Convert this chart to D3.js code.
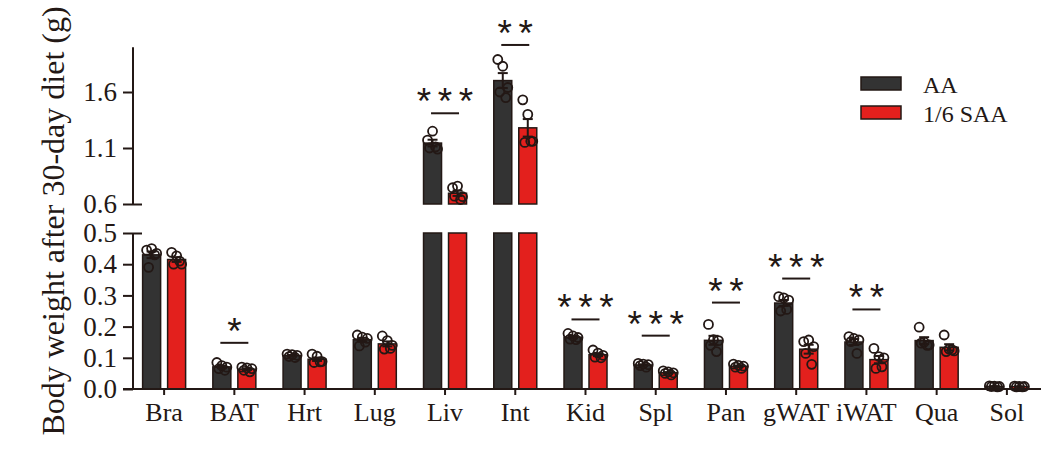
<!DOCTYPE html>
<html>
<head>
<meta charset="utf-8">
<script src="https://cdn.jsdelivr.net/npm/d3@7"></script>
<style>
  body { margin: 0; background: #fff; }
  svg { display: block; }
  text { fill: #231815; }
</style>
</head>
<body>
<div id="chart"></div>
<script>
// organ weights, 5 mice per group
const categories = ['Bra', 'BAT', 'Hrt', 'Lug', 'Liv', 'Int', 'Kid', 'Spl', 'Pan', 'gWAT', 'iWAT', 'Qua', 'Sol'];
const groups = ['AA', '1/6 SAA'];

const aaPoints = [
  [0.445, 0.45, 0.435, 0.39, 0.43],
  [0.085, 0.075, 0.07, 0.065, 0.06],
  [0.112, 0.110, 0.108, 0.104, 0.101],
  [0.173, 0.166, 0.162, 0.138, 0.15],
  [1.17, 1.25, 1.09, 1.10, 1.11],
  [1.89, 1.83, 1.64, 1.60, 1.55],
  [0.178, 0.17, 0.165, 0.16, 0.158],
  [0.082, 0.08, 0.078, 0.075, 0.07],
  [0.207, 0.158, 0.155, 0.14, 0.12],
  [0.296, 0.292, 0.285, 0.25, 0.255],
  [0.168, 0.162, 0.157, 0.152, 0.114],
  [0.198, 0.15, 0.141, 0.147, 0.14],
  [0.01, 0.009, 0.008, 0.008, 0.007]
];
const saaPoints = [
  [0.438, 0.427, 0.40, 0.40, 0.41],
  [0.07, 0.068, 0.065, 0.06, 0.055],
  [0.112, 0.105, 0.088, 0.085, 0.087],
  [0.17, 0.155, 0.14, 0.128, 0.13],
  [0.745, 0.76, 0.665, 0.67, 0.64],
  [1.53, 1.40, 1.16, 1.15, 1.16],
  [0.125, 0.115, 0.108, 0.102, 0.1],
  [0.058, 0.055, 0.052, 0.05, 0.045],
  [0.08, 0.076, 0.073, 0.07, 0.066],
  [0.152, 0.157, 0.136, 0.114, 0.079],
  [0.13, 0.104, 0.10, 0.066, 0.071],
  [0.173, 0.128, 0.122, 0.12, 0.125],
  [0.009, 0.008, 0.008, 0.007, 0.007]
];

const sigMarks = ['', '*', '', '', '***', '**', '***', '***', '**', '***', '**', '', ''];
const sigLevels = [null, 0.148, null, null, 1.41, 2.02, 0.223, 0.171, 0.277, 0.354, 0.255, null, null];

const lowTicks = [0, 0.1, 0.2, 0.3, 0.4, 0.5];
const highTicks = [0.6, 1.1, 1.6];

const jitter = [-5, 0, 5, -3, 3];

const W = 1050, H = 450;
const ink = '#231815';
const colors = { 'AA': '#333333', '1/6 SAA': '#e3201d' };
const serif = '"Liberation Serif", "Times New Roman", serif';

const svg = d3.select('#chart').append('svg')
  .attr('width', W)
  .attr('height', H);

const x = d3.scaleBand().domain(categories).range([129, 1042]);
const xSub = d3.scaleBand().domain(groups).range([-21.5, 21.5]).paddingInner(0.28);

const yLow = d3.scaleLinear().domain([0, 0.5]).range([389, 233]);
const yHigh = d3.scaleLinear().domain([0.6, 2.0]).range([204, 47.2]);
const yv = v => v > 0.55 ? yHigh(v) : yLow(v);

const axisX = 133;

// y axis, lower segment
const gLow = svg.append('g').attr('transform', `translate(${axisX},0)`)
  .call(d3.axisLeft(yLow).tickValues(lowTicks).tickFormat(d3.format('.1f')).tickSize(10).tickPadding(6));
const gHigh = svg.append('g').attr('transform', `translate(${axisX},0)`)
  .call(d3.axisLeft(yHigh).tickValues(highTicks).tickFormat(d3.format('.1f')).tickSize(10).tickPadding(6));

[gLow, gHigh].forEach(g => {
  g.select('.domain').remove();
  g.selectAll('.tick line').attr('stroke', ink).attr('stroke-width', 2);
  g.selectAll('.tick text').attr('font-family', serif).attr('font-size', 27).attr('fill', ink);
});
// break ticks extend both sides
gLow.selectAll('.tick').filter(d => d === 0.5).select('line').attr('x2', 9).attr('x1', -10);
gHigh.selectAll('.tick').filter(d => d === 0.6).select('line').attr('x2', 9).attr('x1', -10);

svg.append('line').attr('x1', axisX).attr('x2', axisX)
  .attr('y1', yLow(0)).attr('y2', yLow(0.5)).attr('stroke', ink).attr('stroke-width', 2);
svg.append('line').attr('x1', axisX).attr('x2', axisX)
  .attr('y1', yHigh(0.6)).attr('y2', yHigh(2.0)).attr('stroke', ink).attr('stroke-width', 2);

// bars
const rows = [];
categories.forEach((c, i) => {
  [[groups[0], aaPoints[i]], [groups[1], saaPoints[i]]].forEach(([g, pts]) => {
    const mean = d3.mean(pts);
    const sem = d3.deviation(pts) / Math.sqrt(pts.length);
    rows.push({ cat: c, group: g, pts, mean, sem, cx: x(c) + x.bandwidth() / 2 + xSub(g) + xSub.bandwidth() / 2 });
  });
});

const bw = xSub.bandwidth();
const barG = svg.append('g');
rows.forEach(d => {
  if (d.mean > 0.55) {
    barG.append('rect')
      .attr('x', d.cx - bw / 2).attr('width', bw)
      .attr('y', yLow(0.5)).attr('height', yLow(0) - yLow(0.5))
      .attr('fill', colors[d.group]).attr('stroke', ink).attr('stroke-width', 1.5);
    barG.append('rect')
      .attr('x', d.cx - bw / 2).attr('width', bw)
      .attr('y', yHigh(d.mean)).attr('height', yHigh(0.6) - yHigh(d.mean))
      .attr('fill', colors[d.group]).attr('stroke', ink).attr('stroke-width', 1.5);
  } else {
    barG.append('rect')
      .attr('x', d.cx - bw / 2).attr('width', bw)
      .attr('y', yLow(d.mean)).attr('height', yLow(0) - yLow(d.mean))
      .attr('fill', colors[d.group]).attr('stroke', ink).attr('stroke-width', 1.5);
  }
  // error bar
  const top = yv(d.mean + d.sem), bot = yv(d.mean - d.sem);
  barG.append('line').attr('x1', d.cx).attr('x2', d.cx).attr('y1', top).attr('y2', bot)
    .attr('stroke', ink).attr('stroke-width', 2);
  [top, bot].forEach(yy => barG.append('line')
    .attr('x1', d.cx - 5).attr('x2', d.cx + 5).attr('y1', yy).attr('y2', yy)
    .attr('stroke', ink).attr('stroke-width', 2));
  // individual points
  barG.selectAll(null).data(d.pts).enter().append('circle')
    .attr('cx', (p, j) => d.cx + jitter[j])
    .attr('cy', p => yv(p))
    .attr('r', 4.5)
    .attr('fill', 'none')
    .attr('stroke', ink)
    .attr('stroke-width', 1.8);
});

// x axis
svg.append('line').attr('x1', 123).attr('x2', 1041).attr('y1', yLow(0)).attr('y2', yLow(0))
  .attr('stroke', ink).attr('stroke-width', 2);
const gx = svg.append('g').attr('transform', `translate(0,${yLow(0)})`)
  .call(d3.axisBottom(x).tickSize(6).tickPadding(8));
gx.select('.domain').remove();
gx.selectAll('.tick line').attr('stroke', ink).attr('stroke-width', 2);
gx.selectAll('.tick text').attr('font-family', serif).attr('font-size', 26).attr('fill', ink);

// significance
const sigG = svg.append('g');
categories.forEach((c, i) => {
  if (!sigMarks[i]) return;
  const cx = x(c) + x.bandwidth() / 2;
  const ly = yv(sigLevels[i]);
  sigG.append('line').attr('x1', cx - 14).attr('x2', cx + 14).attr('y1', ly).attr('y2', ly)
    .attr('stroke', ink).attr('stroke-width', 2);
  const n = sigMarks[i].length;
  d3.range(n).forEach(k => {
    sigG.append('text')
      .attr('x', cx + (k - (n - 1) / 2) * 21)
      .attr('y', ly + 1)
      .attr('text-anchor', 'middle')
      .attr('font-family', '"Liberation Sans", Arial, sans-serif')
      .attr('font-size', 37)
      .text('*');
  });
});

// y title
svg.append('text')
  .attr('transform', `translate(64,221) rotate(-90)`)
  .attr('text-anchor', 'middle')
  .attr('font-family', serif)
  .attr('font-size', 32)
  .text('Body weight after 30-day diet (g)');

// legend
const leg = svg.append('g').attr('transform', 'translate(861,77)');
groups.forEach((g, i) => {
  const row = leg.append('g').attr('transform', `translate(0,${i * 29})`);
  row.append('rect').attr('width', 40).attr('height', 13)
    .attr('fill', colors[g]).attr('stroke', ink).attr('stroke-width', 1.5);
  row.append('text').attr('x', 62).attr('y', 16)
    .attr('font-family', serif).attr('font-size', 24).text(g);
});
</script>
</body>
</html>
